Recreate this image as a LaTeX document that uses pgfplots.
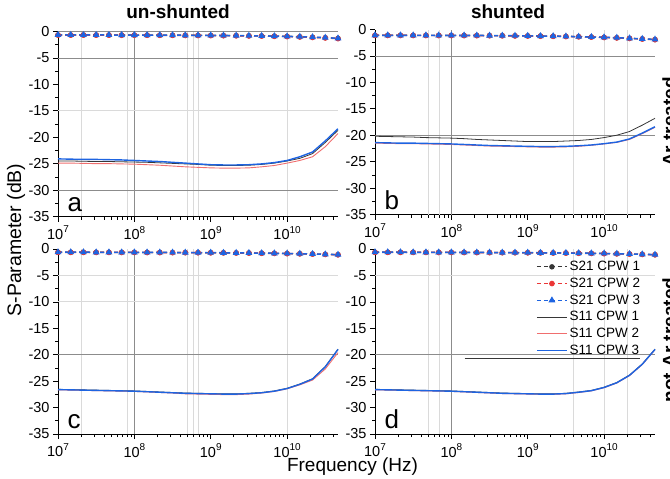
\documentclass[border=0pt]{standalone}
\usepackage{pgfplots}
\pgfplotsset{compat=1.18}
\usepackage{pgfplotstable}
\usepackage{fontspec}
\setmainfont{Liberation Sans}
\definecolor{cblk}{RGB}{55,55,55}
\definecolor{cred}{RGB}{235,55,55}
\definecolor{cpink}{RGB}{240,110,110}
\definecolor{cblu}{RGB}{30,100,225}
\definecolor{gdark}{RGB}{140,140,140}
\definecolor{glight}{RGB}{218,218,218}

% columns: f, S21 CPW1, S21 CPW2, S21 CPW3, S11 CPW1, S11 CPW2, S11 CPW3
\pgfplotstableread{
f a1 a2 a3 b1 b2 b3
1e7      -0.66 -0.68 -0.65 -24.50 -24.90 -24.10
1.468e7  -0.66 -0.68 -0.65 -24.50 -24.90 -24.15
2.154e7  -0.66 -0.68 -0.66 -24.55 -24.95 -24.20
3.162e7  -0.67 -0.69 -0.66 -24.60 -25.00 -24.20
4.642e7  -0.67 -0.69 -0.66 -24.60 -25.00 -24.25
6.813e7  -0.68 -0.70 -0.67 -24.65 -25.05 -24.30
1e8      -0.68 -0.70 -0.67 -24.70 -25.10 -24.40
1.468e8  -0.69 -0.71 -0.68 -24.75 -25.20 -24.50
2.154e8  -0.70 -0.72 -0.69 -24.85 -25.30 -24.60
3.162e8  -0.71 -0.73 -0.70 -24.95 -25.45 -24.75
4.642e8  -0.72 -0.74 -0.71 -25.05 -25.60 -24.90
6.813e8  -0.73 -0.75 -0.72 -25.15 -25.70 -25.05
1e9      -0.74 -0.77 -0.73 -25.30 -25.80 -25.20
1.468e9  -0.76 -0.79 -0.75 -25.35 -25.85 -25.25
2.154e9  -0.78 -0.81 -0.77 -25.35 -25.85 -25.25
3.162e9  -0.81 -0.84 -0.80 -25.30 -25.80 -25.20
4.642e9  -0.84 -0.87 -0.83 -25.15 -25.60 -25.05
6.813e9  -0.88 -0.91 -0.87 -24.90 -25.35 -24.80
1e10     -0.93 -0.96 -0.92 -24.50 -24.90 -24.40
1.468e10 -1.00 -1.03 -0.99 -24.00 -24.40 -23.70
2.154e10 -1.08 -1.12 -1.07 -23.10 -23.70 -22.80
3.162e10 -1.18 -1.22 -1.17 -21.00 -21.80 -20.70
4.642e10 -1.30 -1.35 -1.29 -18.70 -19.30 -18.40
}\tabA

\pgfplotstableread{
f a1 a2 a3 b1 b2 b3
1e7      -1.10 -1.12 -1.09 -20.20 -21.50 -21.40
1.468e7  -1.10 -1.12 -1.09 -20.25 -21.55 -21.45
2.154e7  -1.10 -1.12 -1.09 -20.30 -21.60 -21.50
3.162e7  -1.11 -1.13 -1.10 -20.35 -21.60 -21.50
4.642e7  -1.11 -1.13 -1.10 -20.45 -21.65 -21.55
6.813e7  -1.12 -1.14 -1.11 -20.50 -21.70 -21.60
1e8      -1.12 -1.14 -1.11 -20.55 -21.75 -21.65
1.468e8  -1.13 -1.15 -1.12 -20.65 -21.85 -21.75
2.154e8  -1.14 -1.16 -1.13 -20.80 -21.95 -21.85
3.162e8  -1.15 -1.17 -1.14 -20.90 -22.05 -21.95
4.642e8  -1.17 -1.19 -1.16 -21.00 -22.10 -22.00
6.813e8  -1.19 -1.21 -1.18 -21.10 -22.15 -22.05
1e9      -1.21 -1.23 -1.20 -21.20 -22.20 -22.10
1.468e9  -1.24 -1.26 -1.23 -21.20 -22.25 -22.15
2.154e9  -1.27 -1.29 -1.26 -21.20 -22.25 -22.15
3.162e9  -1.31 -1.33 -1.30 -21.10 -22.20 -22.10
4.642e9  -1.36 -1.38 -1.35 -21.00 -22.10 -22.00
6.813e9  -1.42 -1.44 -1.41 -20.80 -21.90 -21.85
1e10     -1.49 -1.51 -1.48 -20.45 -21.65 -21.60
1.468e10 -1.57 -1.59 -1.56 -20.00 -21.35 -21.30
2.154e10 -1.67 -1.69 -1.66 -19.30 -20.80 -20.70
3.162e10 -1.78 -1.80 -1.77 -18.10 -19.70 -19.60
4.642e10 -1.90 -1.92 -1.89 -16.80 -18.50 -18.40
}\tabB

\pgfplotstableread{
f a1 a2 a3 b1 b2 b3
1e7      -0.62 -0.63 -0.61 -26.55 -26.65 -26.60
1.468e7  -0.62 -0.63 -0.61 -26.60 -26.70 -26.65
2.154e7  -0.62 -0.63 -0.61 -26.65 -26.75 -26.70
3.162e7  -0.63 -0.64 -0.62 -26.70 -26.80 -26.75
4.642e7  -0.63 -0.64 -0.62 -26.75 -26.85 -26.80
6.813e7  -0.64 -0.65 -0.63 -26.80 -26.90 -26.85
1e8      -0.64 -0.65 -0.63 -26.85 -26.95 -26.90
1.468e8  -0.65 -0.66 -0.64 -26.95 -27.05 -27.00
2.154e8  -0.66 -0.67 -0.65 -27.05 -27.15 -27.10
3.162e8  -0.67 -0.68 -0.66 -27.15 -27.25 -27.20
4.642e8  -0.68 -0.69 -0.67 -27.25 -27.40 -27.30
6.813e8  -0.69 -0.70 -0.68 -27.30 -27.45 -27.35
1e9      -0.70 -0.71 -0.69 -27.35 -27.50 -27.40
1.468e9  -0.72 -0.73 -0.71 -27.40 -27.55 -27.45
2.154e9  -0.74 -0.75 -0.73 -27.40 -27.55 -27.45
3.162e9  -0.76 -0.77 -0.75 -27.30 -27.45 -27.35
4.642e9  -0.79 -0.80 -0.78 -27.15 -27.25 -27.20
6.813e9  -0.82 -0.83 -0.81 -26.85 -26.95 -26.90
1e10     -0.86 -0.87 -0.85 -26.35 -26.45 -26.40
1.468e10 -0.90 -0.91 -0.89 -25.55 -25.70 -25.60
2.154e10 -0.95 -0.96 -0.94 -24.55 -24.80 -24.60
3.162e10 -1.01 -1.02 -1.00 -22.25 -22.70 -22.30
4.642e10 -1.08 -1.09 -1.07 -18.95 -19.60 -19.00
}\tabC

\pgfplotstableread{
f a1 a2 a3 b1 b2 b3
1e7      -0.62 -0.63 -0.61 -26.55 -26.65 -26.60
1.468e7  -0.62 -0.63 -0.61 -26.60 -26.70 -26.65
2.154e7  -0.62 -0.63 -0.61 -26.65 -26.75 -26.70
3.162e7  -0.63 -0.64 -0.62 -26.70 -26.80 -26.75
4.642e7  -0.63 -0.64 -0.62 -26.75 -26.85 -26.80
6.813e7  -0.64 -0.65 -0.63 -26.80 -26.90 -26.85
1e8      -0.64 -0.65 -0.63 -26.85 -26.95 -26.90
1.468e8  -0.65 -0.66 -0.64 -26.95 -27.05 -27.00
2.154e8  -0.66 -0.67 -0.65 -27.05 -27.15 -27.10
3.162e8  -0.67 -0.68 -0.66 -27.15 -27.25 -27.20
4.642e8  -0.68 -0.69 -0.67 -27.25 -27.35 -27.30
6.813e8  -0.69 -0.70 -0.68 -27.30 -27.40 -27.35
1e9      -0.70 -0.71 -0.69 -27.35 -27.45 -27.40
1.468e9  -0.72 -0.73 -0.71 -27.40 -27.50 -27.45
2.154e9  -0.74 -0.75 -0.73 -27.40 -27.50 -27.45
3.162e9  -0.76 -0.77 -0.75 -27.30 -27.40 -27.35
4.642e9  -0.79 -0.80 -0.78 -27.05 -27.15 -27.10
6.813e9  -0.82 -0.83 -0.81 -26.75 -26.85 -26.80
1e10     -0.86 -0.87 -0.85 -26.15 -26.25 -26.20
1.468e10 -0.90 -0.91 -0.89 -25.25 -25.35 -25.30
2.154e10 -0.95 -0.96 -0.94 -23.85 -23.95 -23.90
3.162e10 -1.01 -1.02 -1.00 -21.75 -21.85 -21.80
4.642e10 -1.08 -1.09 -1.07 -18.95 -19.05 -19.00
}\tabD

\pgfplotsset{
  every axis/.append style={
    scale only axis, width=280pt, height=185pt,
    xmin=1e7, xmax=4.642e10, ymin=-35, ymax=0,
    axis lines*=left,
    axis line style={black, line width=0.8pt},
    xtick={1e7,1e8,1e9,1e10},
    xticklabels={10\raisebox{0.45em}{\fontsize{10}{10}\selectfont 7},
                 10\raisebox{0.45em}{\fontsize{10}{10}\selectfont 8},
                 10\raisebox{0.45em}{\fontsize{10}{10}\selectfont 9},
                 10\raisebox{0.45em}{\fontsize{10}{10}\selectfont 10}},
    minor xtick={2e7,3e7,4e7,5e7,6e7,7e7,8e7,9e7,2e8,3e8,4e8,5e8,6e8,7e8,8e8,9e8,
                 2e9,3e9,4e9,5e9,6e9,7e9,8e9,9e9,2e10,3e10,4e10},
    ytick={-35,-30,-25,-20,-15,-10,-5,0},
    minor ytick={-32.5,-27.5,-22.5,-17.5,-12.5,-7.5,-2.5},
    tick align=outside,
    major tick length=5pt, minor tick length=3pt,
    tick style={black, line width=0.7pt},
    tick label style={font=\fontsize{14.5}{15}\selectfont},
    xticklabel style={yshift=-1pt},
    clip=false,
    /pgf/number format/assume math mode=true,
  },
}
\tikzset{
  sA/.style={cblk, line width=1.2pt, dash pattern=on 4pt off 3pt, mark=*, mark size=2.1pt, mark options={solid, fill=cblk}},
  sB/.style={cred, line width=1.4pt, dash pattern=on 4pt off 3pt, mark=*, mark size=2.1pt, mark options={solid, fill=cred}},
  sC/.style={cblu, line width=1.5pt, dash pattern=on 4pt off 3pt, mark=triangle*, mark size=2.5pt, mark options={solid, fill=cblu}},
  rA/.style={cblk, line width=0.8pt},
  rB/.style={cpink, line width=0.9pt},
  rC/.style={cblu, line width=1.4pt},
  letter/.style={anchor=base west, font=\fontsize{26}{26}\selectfont},
  gl/.style={glight, line width=0.8pt},
  gd/.style={gdark, line width=0.8pt},
}

\begin{document}
\begin{tikzpicture}
\useasboundingbox (0pt,0pt) rectangle (670pt,-479pt);

% panel a
\begin{semilogxaxis}[at={(58pt,-31.5pt)}, anchor=north west]
  \draw[gl] (axis cs:2e7,-35) -- (axis cs:2e7,0);
  \draw[gl] (axis cs:8e7,-35) -- (axis cs:8e7,0);
  \draw[gl] (axis cs:5e8,-35) -- (axis cs:5e8,0);
  \draw[gl] (axis cs:6e8,-35) -- (axis cs:6e8,0);
  \draw[gl] (axis cs:7e8,-35) -- (axis cs:7e8,0);
  \draw[gl] (axis cs:1e10,-35) -- (axis cs:1e10,0);
  \draw[gd] (axis cs:1e8,-35) -- (axis cs:1e8,0);
  \draw[gd] (axis cs:1e7,0) -- (axis cs:4.642e10,0);
  \draw[gd] (axis cs:1e7,-5) -- (axis cs:4.642e10,-5);
  \draw[gd] (axis cs:1e7,-30) -- (axis cs:4.642e10,-30);
  \draw[gl] (axis cs:1e7,-15) -- (axis cs:4.642e10,-15);
  \addplot[sA] table[x=f,y=a1] {\tabA};
  \addplot[sB] table[x=f,y=a2] {\tabA};
  \addplot[sC] table[x=f,y=a3] {\tabA};
  \addplot[rA] table[x=f,y=b1] {\tabA};
  \addplot[rB] table[x=f,y=b2] {\tabA};
  \addplot[rC] table[x=f,y=b3] {\tabA};
  \node[letter] at (rel axis cs:0,0) [xshift=6pt, yshift=5pt] {a};
\end{semilogxaxis}

% panel b
\begin{semilogxaxis}[at={(375pt,-29.5pt)}, anchor=north west]
  \draw[gl] (axis cs:5e7,-35) -- (axis cs:5e7,0);
  \draw[gl] (axis cs:7e7,-35) -- (axis cs:7e7,0);
  \draw[gl] (axis cs:4e9,-35) -- (axis cs:4e9,0);
  \draw[gl] (axis cs:1e10,-35) -- (axis cs:1e10,0);
  \draw[gl] (axis cs:2e10,-35) -- (axis cs:2e10,0);
  \draw[gd] (axis cs:1e8,-35) -- (axis cs:1e8,0);
  \draw[gd] (axis cs:1e7,-5) -- (axis cs:4.642e10,-5);
  \draw[gd] (axis cs:1e7,-20) -- (axis cs:4.642e10,-20);
  \addplot[sA] table[x=f,y=a1] {\tabB};
  \addplot[sB] table[x=f,y=a2] {\tabB};
  \addplot[sC] table[x=f,y=a3] {\tabB};
  \addplot[rA] table[x=f,y=b1] {\tabB};
  \addplot[rB] table[x=f,y=b2] {\tabB};
  \addplot[rC] table[x=f,y=b3] {\tabB};
  \node[letter] at (rel axis cs:0,0) [xshift=6pt, yshift=5pt] {b};
\end{semilogxaxis}

% panel c
\begin{semilogxaxis}[at={(58pt,-249pt)}, anchor=north west]
  \draw[gl] (axis cs:2e7,-35) -- (axis cs:2e7,0);
  \draw[gl] (axis cs:8e7,-35) -- (axis cs:8e7,0);
  \draw[gl] (axis cs:5e8,-35) -- (axis cs:5e8,0);
  \draw[gl] (axis cs:6e8,-35) -- (axis cs:6e8,0);
  \draw[gl] (axis cs:7e8,-35) -- (axis cs:7e8,0);
  \draw[gl] (axis cs:1e10,-35) -- (axis cs:1e10,0);
  \draw[gd] (axis cs:1e8,-35) -- (axis cs:1e8,0);
  \draw[gl] (axis cs:1e7,-5) -- (axis cs:4.642e10,-5);
  \draw[gl] (axis cs:1e7,-10) -- (axis cs:4.642e10,-10);
  \draw[gd] (axis cs:1e7,-20) -- (axis cs:4.642e10,-20);
  \addplot[sA] table[x=f,y=a1] {\tabC};
  \addplot[sB] table[x=f,y=a2] {\tabC};
  \addplot[sC] table[x=f,y=a3] {\tabC};
  \addplot[rA] table[x=f,y=b1] {\tabC};
  \addplot[rB] table[x=f,y=b2] {\tabC};
  \addplot[rC] table[x=f,y=b3] {\tabC};
  \node[letter] at (rel axis cs:0,0) [xshift=6pt, yshift=6pt] {c};
\end{semilogxaxis}

% panel d
\begin{semilogxaxis}[at={(375pt,-249pt)}, anchor=north west,
  legend style={at={(rel axis cs:0.955,0.945)}, anchor=north east, draw=none, fill=none,
    font=\fontsize{13.5}{14}\selectfont, row sep=1.8pt, inner sep=0pt,
    nodes={inner sep=2pt}},
  legend cell align=left,
  legend image code/.code={\draw[mark repeat=2,mark phase=2,#1] plot coordinates {(0pt,0pt) (15pt,0pt) (30pt,0pt)};}]
  \draw[gl] (axis cs:5e7,-35) -- (axis cs:5e7,0);
  \draw[gl] (axis cs:7e7,-35) -- (axis cs:7e7,0);
  \draw[gl] (axis cs:4e9,-35) -- (axis cs:4e9,0);
  \draw[gl] (axis cs:1e10,-35) -- (axis cs:1e10,0);
  \draw[gl] (axis cs:2e10,-35) -- (axis cs:2e10,0);
  \draw[gd] (axis cs:1e8,-35) -- (axis cs:1e8,0);
  \draw[gl] (axis cs:1e7,-5) -- (axis cs:4.642e10,-5);
  \draw[gd] (axis cs:1e7,-20) -- (axis cs:4.642e10,-20);
  \addplot[sA] table[x=f,y=a1] {\tabD};
  \addplot[sB] table[x=f,y=a2] {\tabD};
  \addplot[sC] table[x=f,y=a3] {\tabD};
  \addplot[rA] table[x=f,y=b1] {\tabD};
  \addplot[rB] table[x=f,y=b2] {\tabD};
  \addplot[rC] table[x=f,y=b3] {\tabD};
  \draw[cblk, line width=1pt] (rel axis cs:0.32,0.408) -- (rel axis cs:0.946,0.408);
  \node[letter] at (rel axis cs:0,0) [xshift=6pt, yshift=6pt] {d};
  \legend{S21 CPW 1, S21 CPW 2, S21 CPW 3, S11 CPW 1, S11 CPW 2, S11 CPW 3}
\end{semilogxaxis}

% titles and labels
\node[anchor=base, font=\bfseries\fontsize{19}{19}\selectfont] at (178pt,-18.5pt) {un-shunted};
\node[anchor=base, font=\bfseries\fontsize{19}{19}\selectfont] at (508pt,-19pt) {shunted};
\node[anchor=base, rotate=90, font=\bfseries\fontsize{19}{19}\selectfont] at (676pt,-122pt) {Ar treated};
\node[anchor=base, rotate=90, font=\bfseries\fontsize{19}{19}\selectfont] at (676pt,-340pt) {not Ar treated};
\node[anchor=base, rotate=90, font=\fontsize{19.5}{20}\selectfont] at (21pt,-240pt) {S-Parameter (dB)};
\node[anchor=base, font=\fontsize{19}{20}\selectfont] at (352.5pt,-471.5pt) {Frequency (Hz)};
\end{tikzpicture}
\end{document}
